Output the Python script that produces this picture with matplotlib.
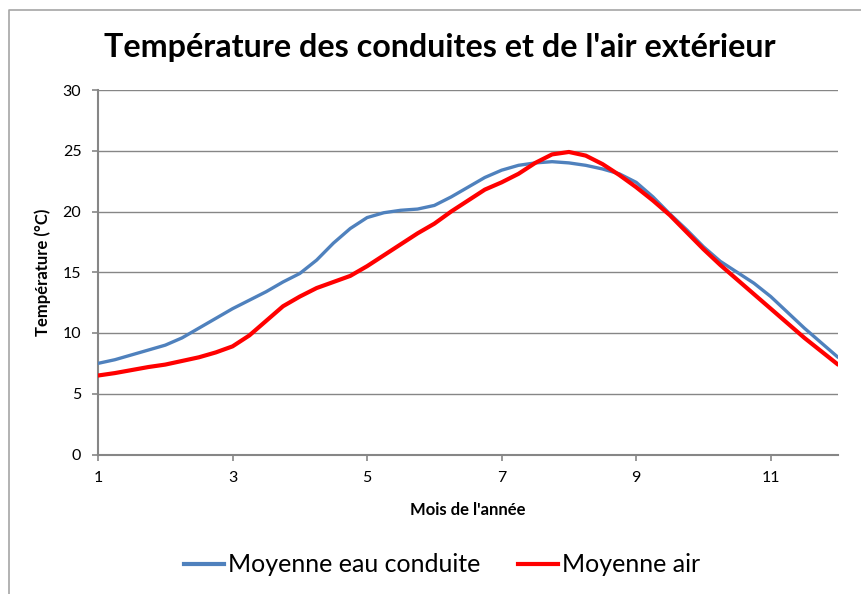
import matplotlib
matplotlib.use("Agg")
import matplotlib.pyplot as plt
from matplotlib.lines import Line2D

months = [1.0, 1.25, 1.5, 1.75, 2.0, 2.25, 2.5, 2.75, 3.0, 3.25, 3.5, 3.75,
          4.0, 4.25, 4.5, 4.75, 5.0, 5.25, 5.5, 5.75, 6.0, 6.25, 6.5, 6.75,
          7.0, 7.25, 7.5, 7.75, 8.0, 8.25, 8.5, 8.75, 9.0, 9.25, 9.5, 9.75,
          10.0, 10.25, 10.5, 10.75, 11.0, 11.25, 11.5, 11.75, 12.0]

eau_conduite = [7.5, 7.8, 8.2, 8.6, 9.0, 9.6, 10.4, 11.2, 12.0, 12.7, 13.4, 14.2,
                14.9, 16.0, 17.4, 18.6, 19.5, 19.9, 20.1, 20.2, 20.5, 21.2, 22.0, 22.8,
                23.4, 23.8, 24.0, 24.1, 24.0, 23.8, 23.5, 23.1, 22.4, 21.2, 19.8, 18.5,
                17.1, 15.9, 15.0, 14.1, 13.0, 11.7, 10.4, 9.2, 8.0]

air = [6.5, 6.7, 6.95, 7.2, 7.4, 7.7, 8.0, 8.4, 8.9, 9.8, 11.0, 12.2,
       13.0, 13.7, 14.2, 14.7, 15.5, 16.4, 17.3, 18.2, 19.0, 20.0, 20.9, 21.8,
       22.4, 23.1, 24.0, 24.7, 24.9, 24.6, 23.9, 23.0, 22.0, 20.9, 19.7, 18.3,
       16.9, 15.6, 14.4, 13.2, 12.0, 10.8, 9.6, 8.5, 7.4]

x_ticks = [1, 3, 5, 7, 9, 11]
y_ticks = [0, 5, 10, 15, 20, 25, 30]

title = "Température des conduites et de l'air extérieur"
xlabel = "Mois de l'année"
ylabel = "Température (°C)"
labels = ["Moyenne eau conduite", "Moyenne air"]

plt.rcParams['font.family'] = ['Lato', 'DejaVu Sans']

W, H = 861, 594
fig = plt.figure(figsize=(W / 100, H / 100), dpi=100)
ax = fig.add_axes([98 / W, 1 - 454.5 / H, (838 - 98) / W, (454.5 - 90) / H])

grey = '#868686'
ax.plot(months, eau_conduite, color='#4F81BD', lw=2.4, solid_capstyle='round', zorder=3)
ax.plot(months, air, color='#FF0000', lw=3.0, solid_capstyle='round', zorder=4)

ax.set_xlim(1, 12)
ax.set_ylim(0, 30)
ax.set_xticks(x_ticks)
ax.set_yticks(y_ticks)
ax.yaxis.grid(True, color=grey, lw=1.0)
ax.set_axisbelow(True)
for s in ['top', 'right']:
    ax.spines[s].set_visible(False)
for s in ['left', 'bottom']:
    ax.spines[s].set_color(grey)
    ax.spines[s].set_linewidth(1.5)
ax.tick_params(axis='both', colors=grey, length=4, width=1.2, labelsize=11.5,
               labelcolor='black')
ax.tick_params(axis='y', pad=8)
ax.tick_params(axis='x', pad=8)

ax.set_xlabel(xlabel, fontsize=12, fontweight='bold', labelpad=12)
ax.set_ylabel(ylabel, fontsize=12, fontweight='bold', labelpad=8)

fig.text(440 / W, 1 - 47 / H, title, ha='center', va='center',
         fontsize=23.2, fontweight='bold')

handles = [Line2D([], [], color='#4F81BD', lw=3),
           Line2D([], [], color='#FF0000', lw=3)]
fig.legend(handles, labels, loc='center', bbox_to_anchor=(442 / W, 1 - 565 / H),
           ncol=2, frameon=False, fontsize=18, handlelength=1.6,
           handletextpad=0.15, columnspacing=1.5)

# outer chart border (top and left visible)
fig.add_artist(Line2D([9 / W, 9 / W, 1], [0, 1 - 10 / H, 1 - 10 / H],
                      transform=fig.transFigure, color='#A6A6A6', lw=1.2))

fig.savefig('out.png', dpi=100)
